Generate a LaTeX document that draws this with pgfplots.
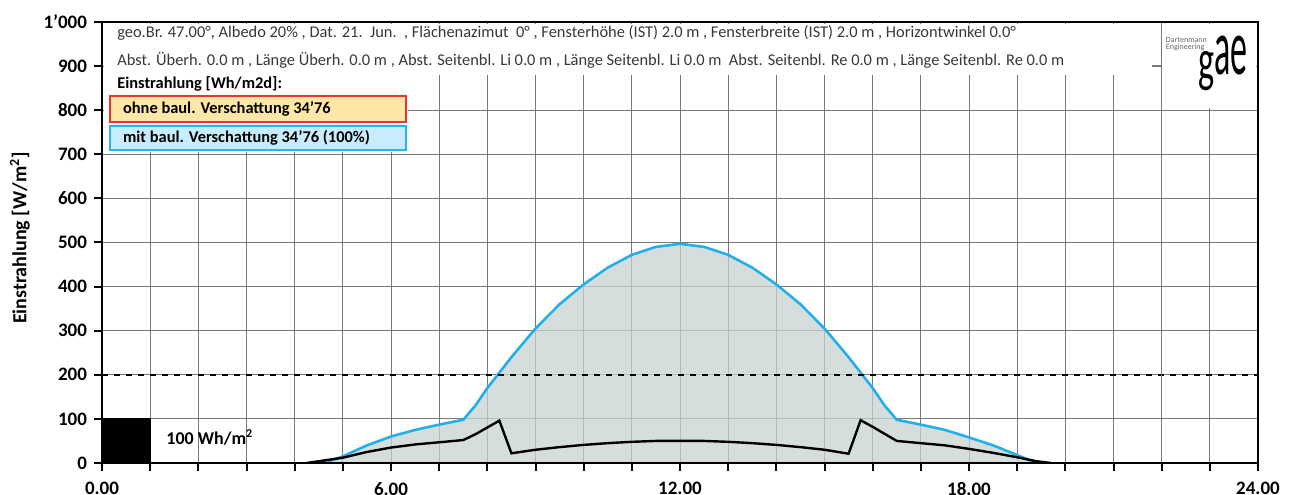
\documentclass[border=0pt]{standalone}
\usepackage{pgfplots}
\pgfplotsset{compat=1.18}
\usepackage{fontspec}
\setmainfont{Carlito}
\definecolor{skyline}{RGB}{35,176,232}
\definecolor{fillgray}{RGB}{200,210,209}
\definecolor{legyel}{RGB}{252,231,166}
\definecolor{legred}{RGB}{240,50,50}
\definecolor{legblue}{RGB}{200,236,251}
\definecolor{legbluebd}{RGB}{40,180,235}
\definecolor{gridgray}{RGB}{120,120,120}
\pgfplotstableread{
h v
4.40 0
4.75 5
5.00 15
5.50 40
6.00 60
6.50 75
7.00 87
7.50 98
7.75 130
8.00 170
8.50 240
9.00 305
9.50 360
10.00 405
10.50 443
11.00 472
11.50 490
12.00 497
12.50 490
13.00 472
13.50 443
14.00 405
14.50 360
15.00 305
15.50 240
16.00 170
16.25 130
16.50 98
17.00 87
17.50 75
18.00 58
18.50 40
19.00 18
19.40 0
}\mit
\pgfplotstableread{
h v
4.25 0
5.00 12
5.50 25
6.00 35
6.50 42
7.00 47
7.50 52
7.75 65
8.25 96
8.50 22
9.00 30
9.50 36
10.00 41
10.50 45
11.00 48
11.50 50
12.00 50
12.50 50
13.00 48
13.50 45
14.00 41
14.50 36
15.00 30
15.50 21
15.75 97
16.00 82
16.50 50
17.00 45
17.50 40
18.00 32
18.50 23
19.00 13
19.40 4
19.70 0
}\ohne
\begin{document}
\begin{tikzpicture}
\begin{axis}[
  name=ax,
  at={(0,0)}, anchor=south west,
  width=578pt, height=220.5pt, scale only axis,
  xmin=0, xmax=24, ymin=0, ymax=1000,
  xtick={0,6,12,18,24},
  xticklabels={0.00,6.00,12.00,18.00,24.00},
  minor xtick={0,1,...,24},
  ytick={0,100,...,1000},
  yticklabels={0,100,200,300,400,500,600,700,800,900,1'000},
  grid=both,
  grid style={gridgray, line width=0.5pt},
  minor grid style={gridgray, line width=0.5pt},
  tick align=outside,
  xtick pos=bottom, ytick pos=left,
  major tick length=4pt, minor tick length=4pt,
  every tick/.style={black, line width=1pt},
  axis line style={black, line width=1.4pt},
  tick label style={font=\bfseries\fontsize{9.5}{11}\selectfont},
  /pgf/number format/assume math mode=true,
  xticklabel style={yshift=-2pt},
  ylabel={Einstrahlung [W/m\textsuperscript{2}]},
  every axis y label/.style={at={(axis description cs:-0.071,0.51)}, rotate=90, anchor=center, font=\bfseries\fontsize{10}{11}\selectfont},
]
\addplot[draw=none, fill=fillgray, fill opacity=0.75] table[x=h,y=v]{\mit} \closedcycle;
\addplot[skyline, line width=1.3pt] table[x=h,y=v]{\mit};
\addplot[black, line width=1.2pt] table[x=h,y=v]{\ohne};
\addplot[black, dashed, line width=0.9pt] coordinates {(0,200) (24,200)};
\addplot[fill=black, draw=black] coordinates {(0,0) (0,100) (1,100) (1,0)} -- cycle;
% white overlay areas
\fill[white] (axis cs:0.05,880) rectangle (axis cs:23.95,995);
\fill[white] (axis cs:0.05,705) rectangle (axis cs:6.35,880);
\fill[white] (axis cs:22,805) rectangle (axis cs:23.95,880);
\draw[gridgray, line width=0.5pt] (axis cs:22,0) -- (axis cs:22,1000);
\draw[gridgray, line width=0.6pt] (axis cs:21.8,900) -- (axis cs:22,900);
\draw[black, line width=1.4pt] (rel axis cs:0,0) rectangle (rel axis cs:1,1);
% texts
\node[anchor=west, font=\fontsize{8.2}{9}\selectfont, text=black!78, inner sep=0pt] at (axis cs:0.31,975)
 {geo.Br. 47.00°, Albedo 20\% , Dat. 21.\ \ Jun.\ \ , Flächenazimut\ \ 0° , Fensterhöhe (IST) 2.0 m , Fensterbreite (IST) 2.0 m , Horizontwinkel 0.0°};
\node[anchor=west, font=\fontsize{8.2}{9}\selectfont, text=black!78, inner sep=0pt] at (axis cs:0.31,914)
 {Abst. Überh. 0.0 m , Länge Überh. 0.0 m , Abst. Seitenbl. Li 0.0 m , Länge Seitenbl. Li 0.0 m\ \ Abst. Seitenbl. Re 0.0 m , Länge Seitenbl. Re 0.0 m};
\node[anchor=west, font=\bfseries\fontsize{8.2}{9}\selectfont, inner sep=0pt] at (axis cs:0.31,860) {Einstrahlung [Wh/m2d]:};
\draw[legred, fill=legyel, line width=0.9pt] (axis cs:0.17,773) rectangle (axis cs:6.31,832);
\node[anchor=west, font=\bfseries\fontsize{8.2}{9}\selectfont, inner sep=0pt] at (axis cs:0.43,802) {ohne baul. Verschattung 34'76};
\draw[legbluebd, fill=legblue, line width=0.9pt] (axis cs:0.17,710) rectangle (axis cs:6.31,764);
\node[anchor=west, font=\bfseries\fontsize{8.2}{9}\selectfont, inner sep=0pt] at (axis cs:0.43,737) {mit baul. Verschattung 34'76 (100\%)};
\node[font=\bfseries\fontsize{9}{10}\selectfont] at (axis cs:2.24,58) {100 Wh/m\textsuperscript{2}};
% logo
\node[anchor=north west, font=\fontsize{4}{3.6}\selectfont, text=black!60, align=left, inner sep=0pt] at (axis cs:22.08,966) {Dartenmann\\Engineering};
\node[anchor=base west, inner sep=0pt, xscale=0.72, font=\fontsize{23.6}{24}\selectfont] at (axis cs:22.76,880) {\raisebox{-3pt}{\scalebox{1}[1.27]{g}}\scalebox{1}[1.68]{a}\scalebox{1}[1.68]{e}};
\end{axis}
\pgfresetboundingbox
\path ([xshift=-51pt,yshift=-16pt]ax.south west) rectangle ([xshift=16pt,yshift=11pt]ax.north east);
\end{tikzpicture}
\end{document}
